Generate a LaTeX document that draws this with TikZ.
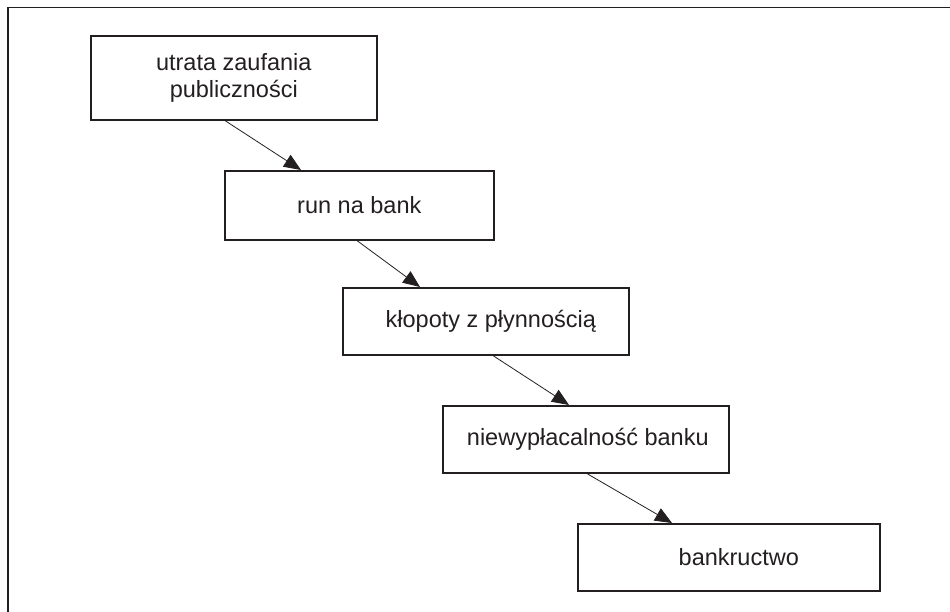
\documentclass[tikz,border=0pt]{standalone}
\usepackage{fontspec}
\setmainfont{Liberation Sans}
\usetikzlibrary{arrows.meta}
\definecolor{ink}{HTML}{231F20}
\begin{document}
\begin{tikzpicture}[x=1pt,y=-1pt,
  stepbox/.style={draw=ink, line width=1.6pt, inner sep=0pt, anchor=north west,
    text=ink, align=center, font=\fontsize{23.5}{27}\selectfont},
  flow/.style={draw=ink, line width=0.8pt,
    -{Triangle[length=17pt,width=14pt]}},
  frame/.style={draw=ink, line width=1.6pt}]
  \useasboundingbox (0,0) rectangle (950,612);
  % open frame: top and left edges only
  \coordinate (ftr) at (950,7.7);
  \coordinate (fc) at (7.7,7.7);
  \coordinate (fbl) at (7.7,612);
  \draw[frame] (ftr) -- (fc) -- (fbl);
  % the chain of steps
  \node[stepbox, minimum width=286pt, minimum height=84pt] (b1) at (90,35)
    {utrata zaufania\\publiczności};
  \node[stepbox, minimum width=269pt, minimum height=69pt] (b2) at (224,170)
    {run na bank};
  \node[stepbox, minimum width=286pt, minimum height=67pt] (b3) at (342,287)
    {\hspace*{10pt}kłopoty z płynnością};
  \node[stepbox, minimum width=286pt, minimum height=67pt] (b4) at (442,405)
    {\hspace*{4pt}niewypłacalność banku};
  \node[stepbox, minimum width=302pt, minimum height=67pt] (b5) at (577,523)
    {\hspace*{20pt}bankructwo};
  % arrows between steps
  \draw[flow] ([xshift=135pt]b1.south west) -- ([xshift=77pt]b2.north west);
  \draw[flow] ([xshift=133pt]b2.south west) -- ([xshift=78pt]b3.north west);
  \draw[flow] ([xshift=151pt]b3.south west) -- ([xshift=127pt]b4.north west);
  \draw[flow] ([xshift=145pt]b4.south west) -- ([xshift=95pt]b5.north west);
\end{tikzpicture}
\end{document}
